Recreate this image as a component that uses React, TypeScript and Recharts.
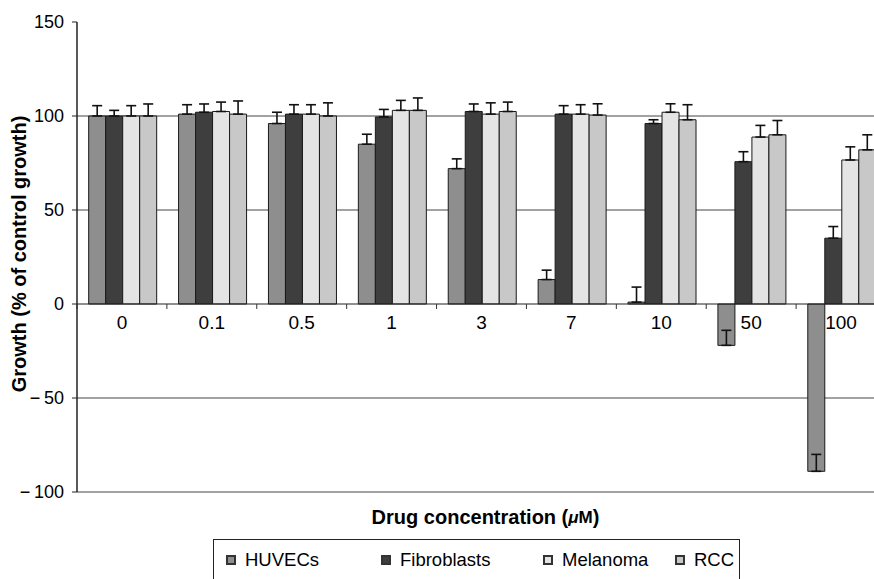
import {
  Bar,
  BarChart,
  CartesianGrid,
  ErrorBar,
  Legend,
  ReferenceLine,
  XAxis,
  YAxis,
} from "recharts";

const CONCENTRATIONS = ["0", "0.1", "0.5", "1", "3", "7", "10", "50", "100"];

const HUVECS = [100, 101, 96, 85, 72, 13, 1, -22, -89];
const HUVECS_ERR = [5.5, 5, 6, 5.3, 5.2, 5, 8, 8, 9];
const FIBROBLASTS = [100, 102, 101, 99.5, 102.4, 101, 96, 75.7, 35];
const FIBROBLASTS_ERR = [3, 4.4, 5, 4, 4, 4.5, 2, 5.3, 6.2];
const MELANOMA = [100, 102.4, 101, 103, 101, 101, 102, 88.8, 76.6];
const MELANOMA_ERR = [5.5, 5, 5, 5.3, 6, 5, 4.5, 6.2, 7];
const RCC = [100, 101, 100, 103, 102.4, 100.5, 98, 90, 82];
const RCC_ERR = [6.4, 7, 7, 6.6, 5, 6, 8, 7.6, 8];

const Y_TICKS = [-100, -50, 0, 50, 100, 150];
const GRID_VALUES = [-100, -50, 50, 100];

const SERIES = [
  { key: "huvecs", name: "HUVECs", values: HUVECS, errors: HUVECS_ERR },
  { key: "fibro", name: "Fibroblasts", values: FIBROBLASTS, errors: FIBROBLASTS_ERR },
  { key: "melanoma", name: "Melanoma", values: MELANOMA, errors: MELANOMA_ERR },
  { key: "rcc", name: "RCC", values: RCC, errors: RCC_ERR },
];

const FILLS: Record<string, string> = {
  huvecs: "#8e8e8e",
  fibro: "#3e3e3e",
  melanoma: "#e4e4e4",
  rcc: "#c8c8c8",
};

// legend slot widths (px), roughly how the original spaces its entries
const LEGEND_SLOTS = [155, 162, 132, 60];

const FONT = '"Liberation Sans", Arial, Helvetica, sans-serif';
const INK = "#000";

// layout
const CHART_W = 900;
const CHART_H = 579;
const MARGIN = { top: 22, right: 14, bottom: 0, left: 0 };
const Y_AXIS_W = 77;
const X_AXIS_H = 47;
const LEGEND_H = 40;
const PLOT_W = CHART_W - MARGIN.left - MARGIN.right - Y_AXIS_W;
const PLOT_H = CHART_H - MARGIN.top - MARGIN.bottom - X_AXIS_H - LEGEND_H;
const Y_MIN = Y_TICKS[0];
const Y_MAX = Y_TICKS[Y_TICKS.length - 1];
const ZERO_Y = MARGIN.top + (PLOT_H * Y_MAX) / (Y_MAX - Y_MIN);
const BAND = PLOT_W / CONCENTRATIONS.length;

const data = CONCENTRATIONS.map((conc, i) => {
  const row: Record<string, string | number | number[]> = { conc };
  SERIES.forEach((s) => {
    row[s.key] = s.values[i];
    row[`${s.key}Err`] = [0, s.errors[i]];
  });
  return row;
});

function ConcTick(props: any) {
  const { x, payload } = props;
  const edge = x - BAND / 2;
  return (
    <g>
      <line x1={edge} x2={edge} y1={ZERO_Y} y2={ZERO_Y + 5} stroke="#333" />
      <text
        x={x}
        y={ZERO_Y + 18}
        textAnchor="middle"
        dominantBaseline="central"
        fontSize={19}
        fontFamily={FONT}
        fill={INK}
      >
        {payload.value}
      </text>
    </g>
  );
}

function fmtY(v: number) {
  return v < 0 ? `\u2212\u2009${Math.abs(v)}` : `${v}`;
}

function XTitle(props: any) {
  const vb = props.viewBox;
  return (
    <text
      x={vb.x + vb.width / 2 + 4}
      y={vb.y + 25}
      textAnchor="middle"
      dominantBaseline="central"
      fontSize={20}
      fontWeight="bold"
      fontFamily={FONT}
      fill={INK}
    >
      Drug concentration (
      <tspan fontStyle="italic" fontSize={17}>
        μ
      </tspan>
      <tspan fontSize={17}>M</tspan>)
    </text>
  );
}

function YTitle(props: any) {
  const vb = props.viewBox;
  const cx = 19;
  const cy = vb.y + vb.height / 2 - 3;
  return (
    <text
      x={cx}
      y={cy}
      transform={`rotate(-90 ${cx} ${cy})`}
      textAnchor="middle"
      dominantBaseline="central"
      fontSize={20}
      fontWeight="bold"
      fontFamily={FONT}
      fill={INK}
    >
      Growth (% of control growth)
    </text>
  );
}

function LegendBox() {
  return (
    <div
      style={{
        boxSizing: "border-box",
        width: 527,
        height: LEGEND_H,
        borderTop: "1px solid #222",
        borderLeft: "1px solid #222",
        borderRight: "1px solid #222",
        display: "flex",
        alignItems: "center",
        paddingLeft: 12,
        fontFamily: FONT,
        fontSize: 18.5,
        color: INK,
      }}
    >
      {SERIES.map((s, i) => (
        <div key={s.key} style={{ display: "flex", alignItems: "center", width: LEGEND_SLOTS[i] }}>
          <span
            style={{
              boxSizing: "border-box",
              display: "inline-block",
              width: 10,
              height: 10,
              background: FILLS[s.key],
              border: "2px solid #333",
              marginRight: 9,
            }}
          />
          <span>{s.name}</span>
        </div>
      ))}
    </div>
  );
}

export default function App() {
  return (
    <div
      style={{
        position: "fixed",
        left: 0,
        top: 0,
        width: 874,
        height: 579,
        overflow: "hidden",
        background: "#fff",
        fontFamily: FONT,
      }}
    >
      <BarChart
        width={CHART_W}
        height={CHART_H}
        data={data}
        margin={MARGIN}
        barCategoryGap="13%"
        barGap={0}
      >
        <CartesianGrid
          horizontal
          vertical={false}
          horizontalValues={GRID_VALUES}
          stroke="#444"
          strokeWidth={1}
        />
        <XAxis
          dataKey="conc"
          height={X_AXIS_H}
          axisLine={false}
          tickLine={false}
          interval={0}
          tick={<ConcTick />}
          label={{ content: <XTitle /> }}
        />
        <YAxis
          width={Y_AXIS_W}
          domain={[Y_MIN, Y_MAX]}
          ticks={Y_TICKS}
          allowDataOverflow
          tickFormatter={fmtY}
          tickSize={5}
          tickMargin={8}
          axisLine={{ stroke: "#222", strokeWidth: 1.5 }}
          tickLine={{ stroke: "#222" }}
          tick={{ fontSize: 18, fill: INK, fontFamily: FONT }}
          label={{ content: <YTitle /> }}
        />
        <ReferenceLine y={0} stroke="#222" strokeWidth={1.2} />
        {SERIES.map((s) => (
          <Bar
            key={s.key}
            dataKey={s.key}
            name={s.name}
            fill={FILLS[s.key]}
            stroke="#1a1a1a"
            strokeWidth={1}
            isAnimationActive={false}
          >
            <ErrorBar
              dataKey={`${s.key}Err`}
              direction="y"
              width={5}
              stroke="#111"
              strokeWidth={1.6}
            />
          </Bar>
        ))}
        <Legend
          verticalAlign="bottom"
          align="left"
          wrapperStyle={{ left: 213, width: 527 }}
          content={<LegendBox />}
        />
      </BarChart>
    </div>
  );
}
